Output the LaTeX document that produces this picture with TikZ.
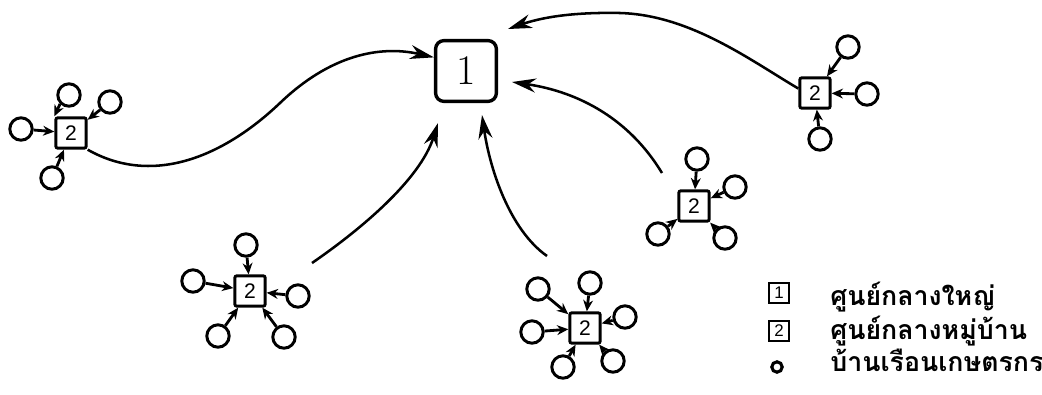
\documentclass[tikz,border=0pt]{standalone}
\usepackage{fontspec}
\setsansfont{Liberation Sans}
\newfontfamily\thaifont[Script=Thai]{Loma}
\usetikzlibrary{arrows.meta}
\begin{document}
\begin{tikzpicture}[x=0.025cm,y=-0.025cm,
  mainbox/.style={draw, line width=2.4pt, rounded corners=6pt, minimum size=1.52cm, inner sep=0pt, font=\fontsize{30}{30}\selectfont},
  vbox/.style={draw, line width=2.1pt, rounded corners=1.5pt, minimum size=0.76cm, inner sep=0pt, font=\sffamily\fontsize{15}{15}\selectfont},
  house/.style={draw, circle, line width=2.1pt, minimum size=0.56cm, inner sep=0pt},
  feed/.style={line width=2pt, -{Stealth[length=8pt,width=7pt]}},
  link/.style={line width=1.8pt, -{Stealth[length=17pt,width=10pt]}},
  lbox/.style={draw, line width=1.3pt, minimum size=0.52cm, inner sep=0pt, font=\sffamily\fontsize{12}{12}\selectfont},
  lhouse/.style={draw, circle, line width=2.2pt, minimum size=0.26cm, inner sep=0pt},
  legtext/.style={anchor=base west, inner sep=0pt, font=\thaifont\bfseries\fontsize{19}{19}\selectfont}
]
\useasboundingbox (0,0) rectangle (1042,395);

% central hub
\node[mainbox] (C) at (466,71) {1};

% cluster A (left)
\node[vbox] (A) at (71,133) {2};
\node[house] (A1) at (21,129) {};
\node[house] (A2) at (69,95) {};
\node[house] (A3) at (110,102) {};
\node[house] (A4) at (52,178) {};
\draw[feed] (A1) -- (A);
\draw[feed] (A2.south west) -- (A.north west);
\draw[feed] (A3) -- (A);
\draw[feed] (A4) -- (A);

% cluster B (bottom left)
\node[vbox] (B) at (250,291) {2};
\node[house] (B1) at (246,245) {};
\node[house] (B2) at (193,281) {};
\node[house] (B3) at (298,296) {};
\node[house] (B4) at (218,336) {};
\node[house] (B5) at (284,337) {};
\foreach \i in {1,...,5} \draw[feed] (B\i) -- (B);

% cluster K (bottom middle)
\node[vbox] (K) at (585,328) {2};
\node[house] (K1) at (590,283) {};
\node[house] (K2) at (538,289) {};
\node[house] (K3) at (532,332) {};
\node[house] (K4) at (625,317) {};
\node[house] (K5) at (563,367) {};
\node[house] (K6) at (613,361) {};
\foreach \i in {1,...,6} \draw[feed] (K\i) -- (K);

% cluster D (right middle)
\node[vbox] (D) at (694,206) {2};
\node[house] (D1) at (697,159) {};
\node[house] (D2) at (735,187) {};
\node[house] (D3) at (658,234) {};
\node[house] (D4) at (725,238) {};
\foreach \i in {1,...,4} \draw[feed] (D\i) -- (D);

% cluster E (top right)
\node[vbox] (E) at (815,93) {2};
\node[house] (E1) at (848,47) {};
\node[house] (E2) at (867,94) {};
\node[house] (E3) at (820,139) {};
\foreach \i in {1,...,3} \draw[feed] (E\i) -- (E);

% free ends of the long connectors
\coordinate (b0) at (312,263);
\coordinate (bt) at (438,123);
\coordinate (k0) at (547,256);
\coordinate (kt) at (482,115);
\coordinate (d0) at (662,173);
\coordinate (dt) at (512,82);
\coordinate (et) at (508,29);

% long connectors
\draw[link] (A.south east) .. controls (150,185) and (220,160) .. (280,103)
            .. controls (330,55) and (380,45) .. (C.157);
\draw[link] (b0) .. controls (360,230) and (420,180) .. (bt);
\draw[link] (k0) .. controls (510,230) and (490,170) .. (kt);
\draw[link] (d0) .. controls (630,120) and (580,92) .. (dt);
\draw[link] (E.165) .. controls (750,60) and (690,15) .. (620,13)
            .. controls (570,12) and (540,18) .. (et);

% legend
\node[lbox] (L1) at (779,293) {1};
\node[lbox] (L2) at (779,331) {2};
\node[lhouse] (L3) at (777,367) {};
\node[legtext] (T1) at (830,305) {ศูนย์กลางใหญ่};
\node[legtext] (T2) at (830,339) {ศูนย์กลางหมู่บ้าน};
\node[legtext] (T3) at (830,371) {บ้านเรือนเกษตรกร};
\end{tikzpicture}
\end{document}
